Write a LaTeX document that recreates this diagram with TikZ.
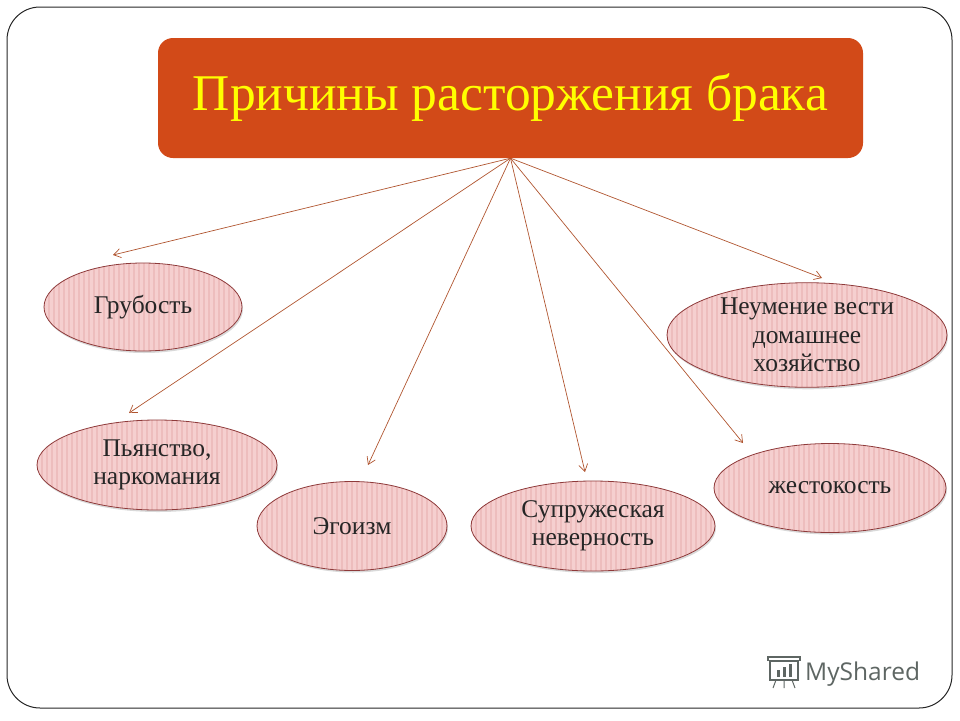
\documentclass[tikz,border=0pt]{standalone}
\usepackage{fontspec}
\setmainfont{Liberation Serif}
\newfontfamily\logofont{Open Sans}
\usetikzlibrary{shadows,arrows.meta,shapes.geometric}
\definecolor{titlered}{HTML}{D24A18}
\definecolor{titleyel}{HTML}{FFFF00}
\definecolor{arrowc}{HTML}{B05530}
\definecolor{pinkfill}{HTML}{F5CFCF}
\definecolor{pinkstripe}{HTML}{EDBDBD}
\definecolor{pinkborder}{HTML}{8E3A3A}
\definecolor{logogray}{HTML}{5E6663}
\tikzset{
  x=1pt, y=-1pt,
  cause/.style={ellipse, draw=pinkborder, line width=0.8pt, fill=pinkfill,
    path picture={
      \foreach \k in {0,5,...,300} {
        \draw[pinkstripe, line width=1.5pt]
          ([xshift=\k pt]path picture bounding box.south west) --
          ([xshift=\k pt]path picture bounding box.north west);
      }
    },
    drop shadow={shadow xshift=1pt, shadow yshift=-2pt, opacity=0.3},
    align=center, font=\fontsize{25.5}{28.5}\selectfont, text=black!85, inner sep=0pt},
  link/.style={draw=arrowc, line width=0.7pt, -{Straight Barb[length=7pt,width=9pt]}},
}
\begin{document}
\begin{tikzpicture}
\useasboundingbox (0,0) rectangle (960,720);
% frame
\draw[line width=1pt, black!85, rounded corners=33pt] (7,7) rectangle (952,708);
% title
\node[fill=titlered, rounded corners=15pt, minimum width=705pt, minimum height=120pt,
  text=titleyel, font=\fontsize{51.5}{54}\selectfont, inner sep=0pt] (title) at (510.5,98) {Причины расторжения брака};
% causes
\node[cause, minimum width=198pt, minimum height=88pt] (c1) at (143,307) {Грубость};
\node[cause, minimum width=240pt, minimum height=90pt] (c2) at (157,465) {Пьянство,\\наркомания};
\node[cause, minimum width=190pt, minimum height=89pt] (c3) at (352,526) {Эгоизм};
\node[cause, minimum width=244pt, minimum height=90pt] (c4) at (593,526) {Супружеская\\неверность};
\node[cause, minimum width=232pt, minimum height=89pt] (c5) at (830,488) {жестокость};
\node[cause, minimum width=280pt, minimum height=96pt] (c6) at (807,335) {Неумение вести\\домашнее\\хозяйство};
% arrow ends
\coordinate (e1) at (113,255);
\coordinate (e2) at (129,413);
\coordinate (e3) at (368,465);
\coordinate (e4) at (585,472);
\coordinate (e5) at (743,443);
\coordinate (e6) at (822,278);
\foreach \i in {1,...,6} { \draw[link] (title.south) -- (e\i); }
% logo
\node[font=\logofont\fontsize{24.5}{26}\selectfont, text=logogray, anchor=west, inner sep=0pt] (logo) at (805,674) {MyShared};
\begin{scope}[logogray, line width=1.3pt]
  \draw (770,661) rectangle (798,680);
  \draw (768,661) -- (768,657) -- (800,657) -- (800,661);
  \fill (777,670) rectangle (780,677);
  \fill (783,667) rectangle (786,677);
  \fill (789,664) rectangle (792,677);
  \draw[line width=1pt] (776,680) -- (773,688) (784,680) -- (784,688) (792,680) -- (795,688);
\end{scope}
\end{tikzpicture}
\end{document}
